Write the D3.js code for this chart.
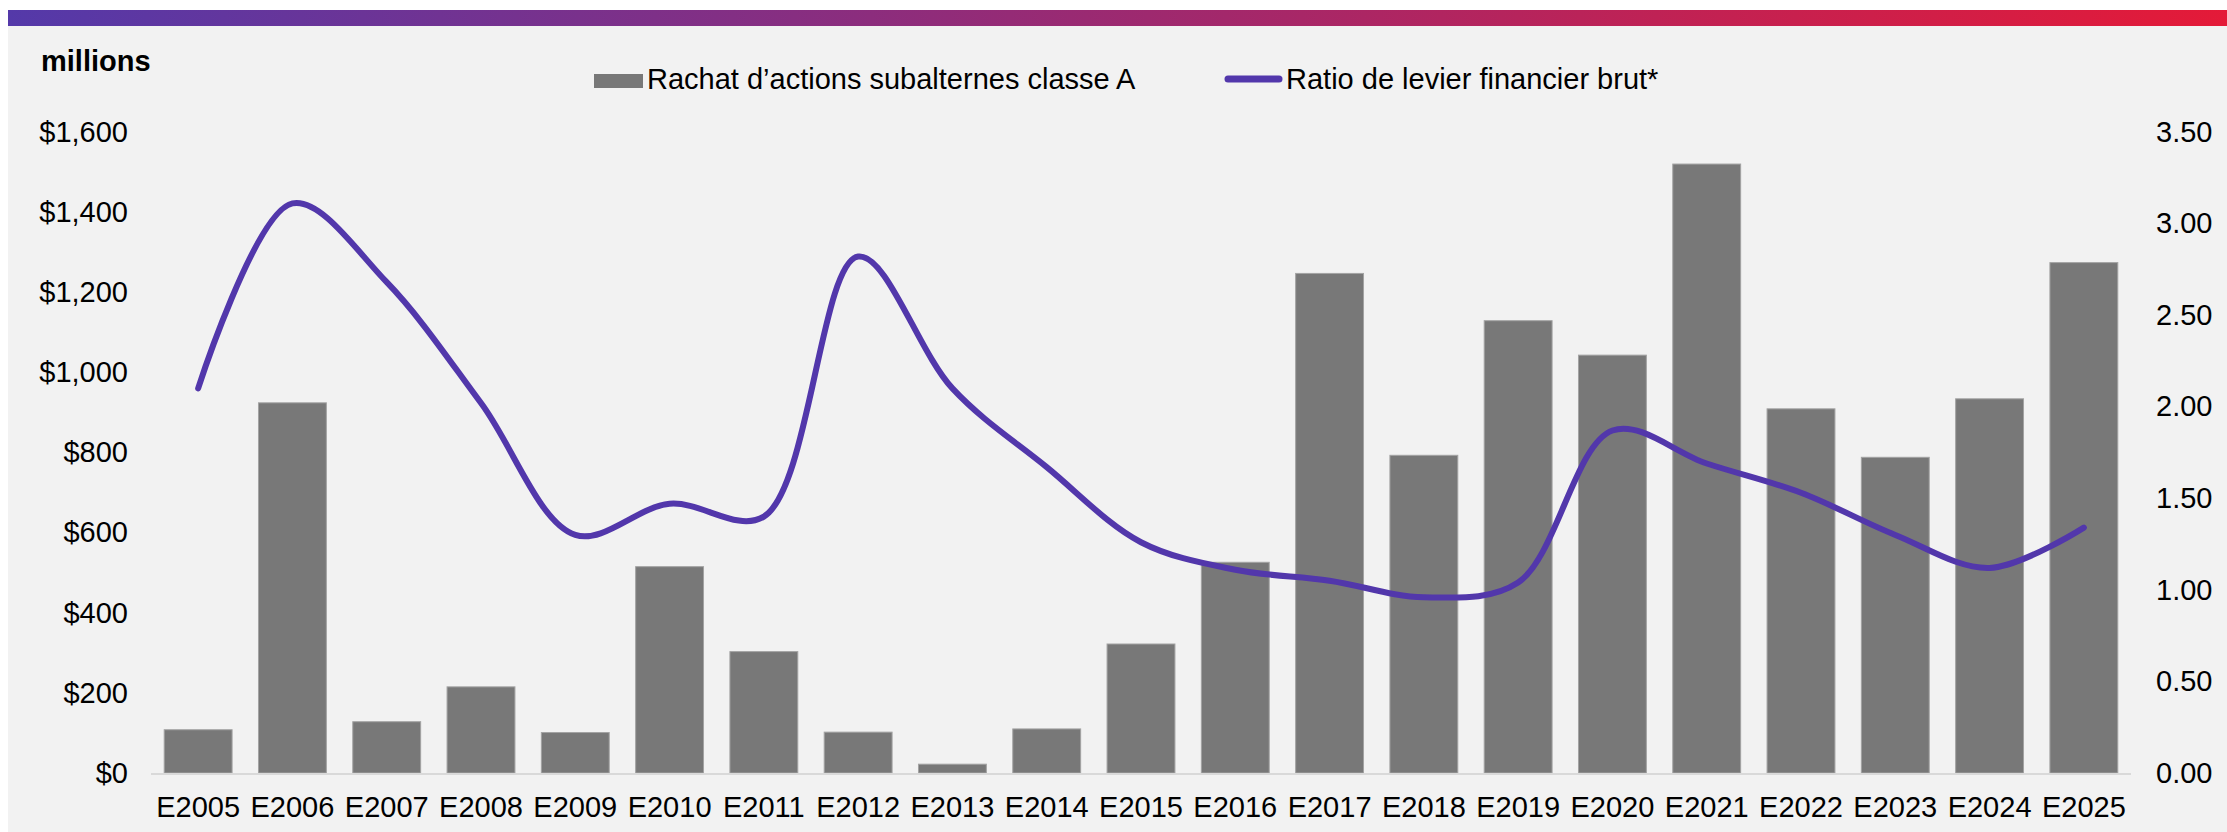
<!DOCTYPE html>
<html lang="fr">
<head>
<meta charset="UTF-8">
<script src="https://cdn.jsdelivr.net/npm/d3@7"></script>
<title>Rachat d'actions</title>
<style>
    html, body { margin: 0; padding: 0; background: #ffffff; }
    text { font-family: "Liberation Sans", Arial, sans-serif; fill: #000; }
</style>
</head>
<body>
<div id="chart"></div>
<script>
    // ---------------- data ----------------
    const years = ["E2005","E2006","E2007","E2008","E2009","E2010","E2011","E2012","E2013","E2014","E2015",
                   "E2016","E2017","E2018","E2019","E2020","E2021","E2022","E2023","E2024","E2025"];
    // share buybacks, $ millions
    const buybacks = [108, 924, 128, 215, 101, 515, 303, 102, 22, 110, 322,
                      526, 1247, 793, 1129, 1043, 1520, 909, 788, 934, 1274];
    // gross leverage ratio
    const leverage = [2.10, 3.11, 2.68, 2.02, 1.30, 1.47, 1.40, 2.82, 2.10, 1.67, 1.26,
                      1.11, 1.05, 0.96, 1.04, 1.87, 1.69, 1.53, 1.30, 1.12, 1.34];
    const leftTicks = [0, 200, 400, 600, 800, 1000, 1200, 1400, 1600];
    const rightTicks = [0, 0.5, 1, 1.5, 2, 2.5, 3, 3.5];
    const barLabel = "Rachat d’actions subalternes classe A";
    const lineLabel = "Ratio de levier financier brut*";

    // ---------------- layout ----------------
    const W = 2227, H = 832;
    const plot = { left: 151, right: 2131, top: 132, bottom: 773 };
    const fontSize = "29px";

    const svg = d3.select("#chart").append("svg")
        .attr("width", W).attr("height", H)
        .style("display", "block");

    // background + header gradient band
    const grad = svg.append("defs").append("linearGradient")
        .attr("id", "band").attr("x1", "0%").attr("x2", "100%");
    grad.append("stop").attr("offset", "0%").attr("stop-color", "#5439a9");
    grad.append("stop").attr("offset", "100%").attr("stop-color", "#e41a38");

    svg.append("rect").attr("x", 8).attr("y", 26).attr("width", W - 8).attr("height", H - 26).attr("fill", "#f2f2f2");
    svg.append("rect").attr("x", 8).attr("y", 10).attr("width", W - 8).attr("height", 16).attr("fill", "url(#band)");

    // ---------------- scales ----------------
    const x = d3.scaleBand().domain(years)
        .range([plot.left, plot.right])
        .paddingInner(0.28).paddingOuter(0.14);
    const yL = d3.scaleLinear().domain([0, 1600]).range([plot.bottom, plot.top]);
    const yR = d3.scaleLinear().domain([0, 3.5]).range([plot.bottom, plot.top]);

    // ---------------- bars ----------------
    svg.append("g").selectAll("rect")
        .data(years)
        .join("rect")
        .attr("x", d => x(d))
        .attr("width", x.bandwidth())
        .attr("y", (d, i) => yL(buybacks[i]))
        .attr("height", (d, i) => yL(0) - yL(buybacks[i]))
        .attr("fill", "#787878")
        .attr("stroke", "#a3a3a3")
        .attr("stroke-width", 1);

    // baseline
    svg.append("line")
        .attr("x1", plot.left).attr("x2", plot.right)
        .attr("y1", plot.bottom + 1).attr("y2", plot.bottom + 1)
        .attr("stroke", "#d9d9d9").attr("stroke-width", 2);

    // ---------------- line ----------------
    const line = d3.line()
        .x((d, i) => x(years[i]) + x.bandwidth() / 2)
        .y(d => yR(d))
        .curve(d3.curveCatmullRom.alpha(0.5));

    svg.append("path")
        .datum(leverage)
        .attr("d", line)
        .attr("fill", "none")
        .attr("stroke", "#5237ab")
        .attr("stroke-width", 6)
        .attr("stroke-linecap", "round")
        .attr("stroke-linejoin", "round");

    // ---------------- axes ----------------
    const fmtL = d => "$" + d3.format(",")(d);
    const axL = svg.append("g")
        .attr("transform", `translate(${plot.left},0)`)
        .call(d3.axisLeft(yL).tickValues(leftTicks).tickFormat(fmtL).tickSize(0).tickPadding(23));
    const axR = svg.append("g")
        .attr("transform", `translate(${plot.right},0)`)
        .call(d3.axisRight(yR).tickValues(rightTicks).tickFormat(d3.format(".2f")).tickSize(0).tickPadding(25));
    const axX = svg.append("g")
        .attr("transform", `translate(0,${plot.bottom})`)
        .call(d3.axisBottom(x).tickSize(0).tickPadding(23));

    [axL, axR, axX].forEach(a => {
        a.select(".domain").remove();
        a.selectAll("text").style("font-family", "'Liberation Sans', Arial, sans-serif")
            .style("font-size", fontSize).attr("fill", "#000");
    });
    axR.selectAll("text").attr("text-anchor", "start");

    // ---------------- title + legend ----------------
    svg.append("text")
        .attr("x", 41).attr("y", 71)
        .style("font-size", fontSize).style("font-weight", "bold")
        .text("millions");

    const lg = svg.append("g");
    lg.append("rect").attr("x", 594).attr("y", 74).attr("width", 49).attr("height", 14).attr("fill", "#787878");
    lg.append("text").attr("x", 647).attr("y", 89).style("font-size", fontSize).text(barLabel);
    lg.append("line").attr("x1", 1228).attr("x2", 1279).attr("y1", 79).attr("y2", 79)
        .attr("stroke", "#5237ab").attr("stroke-width", 7).attr("stroke-linecap", "round");
    lg.append("text").attr("x", 1286).attr("y", 89).style("font-size", fontSize).text(lineLabel);
</script>
</body>
</html>
